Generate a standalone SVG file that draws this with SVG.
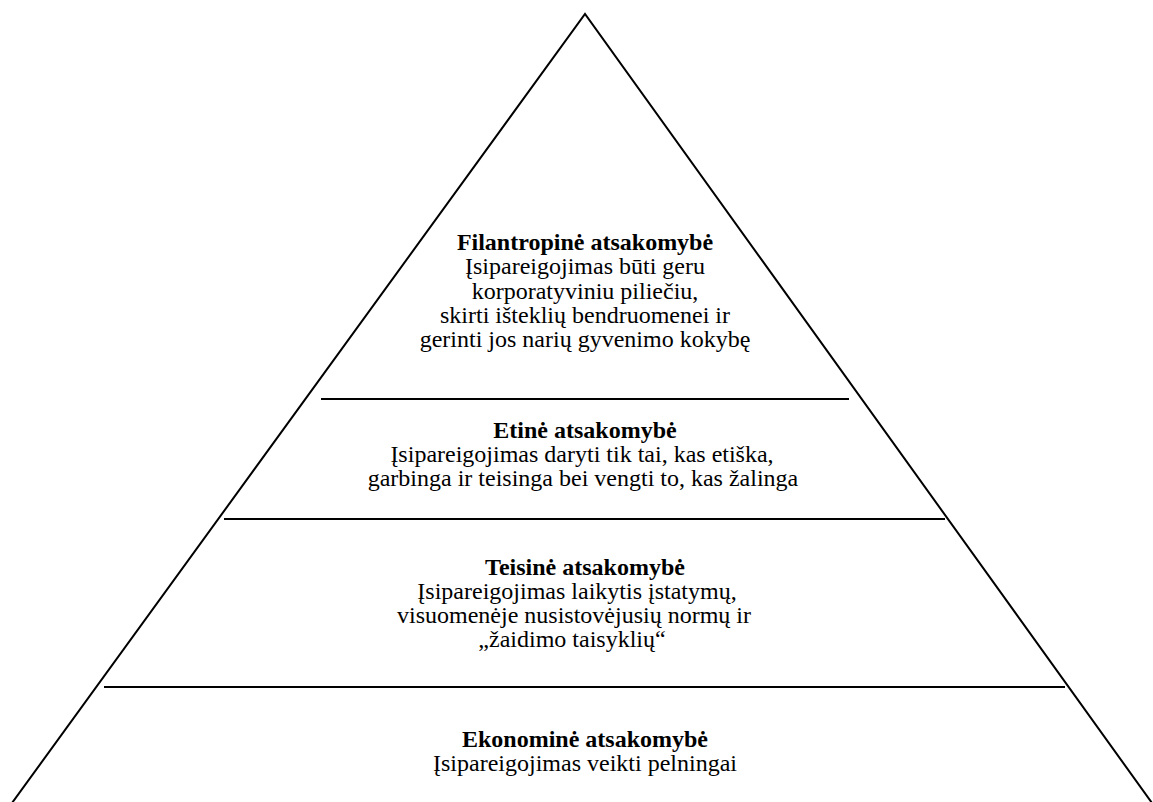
<svg xmlns="http://www.w3.org/2000/svg" width="1153" height="802" viewBox="0 0 1153 802">
<style>
.l{stroke:#000;stroke-width:2;fill:none}
text{font-family:"Liberation Serif","Times New Roman",serif;font-size:24px;fill:#000;text-anchor:middle}
.b{font-weight:bold}
</style>
<rect width="1153" height="802" fill="#fff"/>
<g id="connectors">
<polyline class="l" points="12,803 585,14 1152,803"/>
<line class="l" x1="321" y1="399" x2="849" y2="399"/>
<line class="l" x1="224" y1="519" x2="945" y2="519"/>
<line class="l" x1="104" y1="687" x2="1065" y2="687"/>
</g>
<g id="filantropine">
<text class="b" x="585" y="250">Filantropinė atsakomybė</text>
<text x="585" y="274">Įsipareigojimas būti geru</text>
<text x="585" y="299">korporatyviniu piliečiu,</text>
<text x="585" y="323">skirti išteklių bendruomenei ir</text>
<text x="585" y="347">gerinti jos narių gyvenimo kokybę</text>
</g>
<g id="etine">
<text class="b" x="585" y="438">Etinė atsakomybė</text>
<text x="582" y="462">Įsipareigojimas daryti tik tai, kas etiška,</text>
<text x="583" y="486">garbinga ir teisinga bei vengti to, kas žalinga</text>
</g>
<g id="teisine">
<text class="b" x="585" y="575">Teisinė atsakomybė</text>
<text x="577" y="599">Įsipareigojimas laikytis įstatymų,</text>
<text x="574" y="623">visuomenėje nusistovėjusių normų ir</text>
<text x="572" y="647">„žaidimo taisyklių“</text>
</g>
<g id="ekonomine">
<text class="b" x="585" y="747">Ekonominė atsakomybė</text>
<text x="585" y="771">Įsipareigojimas veikti pelningai</text>
</g>
</svg>
